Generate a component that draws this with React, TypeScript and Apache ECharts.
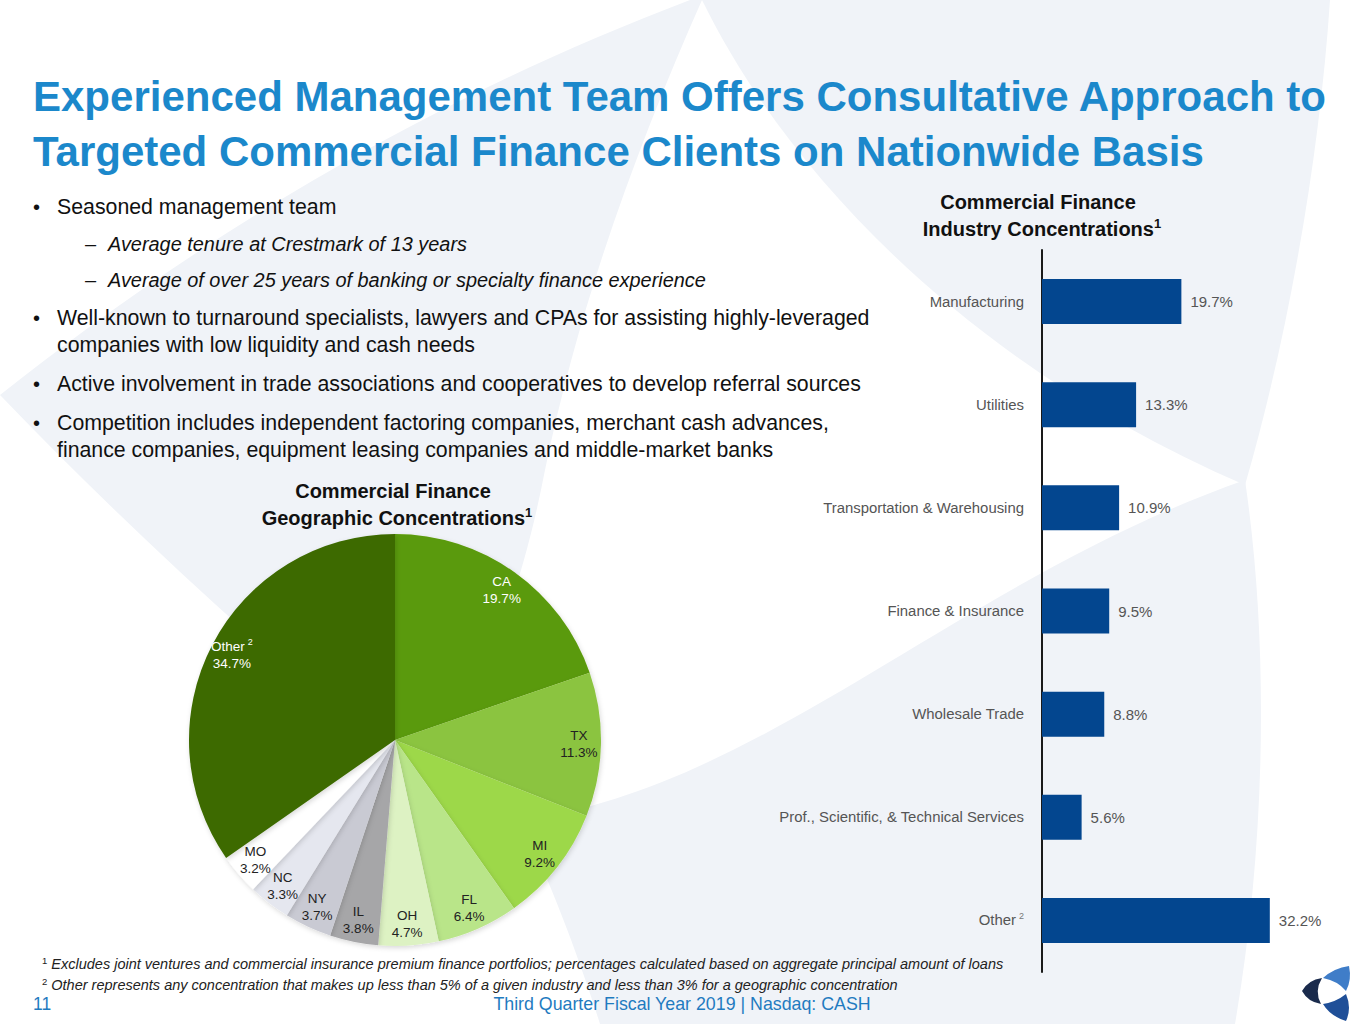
import React, { useEffect, useRef } from "react";
import * as echarts from "echarts";

const titleLines = [
  "Experienced Management Team Offers Consultative Approach to",
  "Targeted Commercial Finance Clients on Nationwide Basis",
];

const bulletLines = [
  { level: 1, marker: "•", text: "Seasoned management team" },
  { level: 2, marker: "–", text: "Average tenure at Crestmark of 13 years" },
  { level: 2, marker: "–", text: "Average of over 25 years of banking or specialty finance experience" },
  { level: 1, marker: "•", text: "Well-known to turnaround specialists, lawyers and CPAs for assisting highly-leveraged" },
  { level: 1, marker: "", text: "companies with low liquidity and cash needs" },
  { level: 1, marker: "•", text: "Active involvement in trade associations and cooperatives to develop referral sources" },
  { level: 1, marker: "•", text: "Competition includes independent factoring companies, merchant cash advances," },
  { level: 1, marker: "", text: "finance companies, equipment leasing companies and middle-market banks" },
];
const bulletY = [207, 244, 280, 318, 345, 384, 423, 450];

const geoNames = ["CA", "TX", "MI", "FL", "OH", "IL", "NY", "NC", "MO", "Other"];
const geoValues = [19.7, 11.3, 9.2, 6.4, 4.7, 3.8, 3.7, 3.3, 3.2, 34.7];
const geoColors = ["#5a9a08", "#8bc43f", "#9dd849", "#b9e589", "#ddf2c3", "#a6a6a8", "#c9cad3", "#e5e7ef", "#ffffff", "#3d6a05"];
const geoLabelColors = ["#ffffff", "#222222", "#222222", "#222222", "#222222", "#222222", "#222222", "#222222", "#222222", "#ffffff"];

const industryNames = [
  "Manufacturing",
  "Utilities",
  "Transportation & Warehousing",
  "Finance & Insurance",
  "Wholesale Trade",
  "Prof., Scientific, & Technical Services",
  "Other",
];
const industryValues = [19.7, 13.3, 10.9, 9.5, 8.8, 5.6, 32.2];

const footnotes = [
  "Excludes joint ventures and commercial insurance premium finance portfolios; percentages calculated based on aggregate principal amount of loans",
  "Other represents any concentration that makes up less than 5% of a given industry and less than 3% for a geographic concentration",
];
const pageNumber = "11";
const footerText = "Third Quarter Fiscal Year 2019 | Nasdaq: CASH";

const FONT = "'Liberation Sans', Arial, sans-serif";
const NARROW = "'Liberation Sans Narrow', 'Arial Narrow', 'Liberation Sans', sans-serif";
const TITLE_BLUE = "#1b88cb";
const FOOT_BLUE = "#1f7bc0";

echarts.graphic.registerShape(
  "bgLeft",
  echarts.graphic.extendPath(
    "M 0 395 C 170 260 400 110 690 0 L 702 0 C 640 140 580 300 545 470 C 520 600 480 700 420 780 C 260 650 120 520 0 395 Z",
    {}
  )
);
echarts.graphic.registerShape(
  "bgTop",
  echarts.graphic.extendPath(
    "M 702 0 C 800 200 1000 380 1245 485 C 1290 330 1320 150 1330 0 Z",
    {}
  )
);
echarts.graphic.registerShape(
  "bgBottom",
  echarts.graphic.extendPath(
    "M 520 820 C 760 790 960 580 1245 480 C 1270 650 1265 850 1235 1024 L 600 1024 C 580 960 550 880 520 820 Z",
    {}
  )
);
echarts.graphic.registerShape(
  "logoLeft",
  echarts.graphic.extendPath("M 1302 991 Q 1308 980 1322 978 Q 1314 991 1321 1004 Q 1308 1002 1302 991 Z", {})
);
echarts.graphic.registerShape(
  "logoTop",
  echarts.graphic.extendPath("M 1323 978 Q 1334 968 1349 966 Q 1352 980 1346 991 Q 1338 981 1323 978 Z", {})
);
echarts.graphic.registerShape(
  "logoBottom",
  echarts.graphic.extendPath("M 1323 1004 Q 1336 1002 1346 994 Q 1352 1008 1346 1021 Q 1330 1016 1323 1004 Z", {})
);

function buildOption() {
  const graphics: any[] = [];
  const bgFill = "#f0f3f8";
  graphics.push({ type: "bgLeft", z: -10, style: { fill: bgFill } });
  graphics.push({ type: "bgTop", z: -10, style: { fill: bgFill } });
  graphics.push({ type: "bgBottom", z: -10, style: { fill: bgFill } });

  titleLines.forEach((t, i) => {
    graphics.push({
      type: "text",
      z: 10,
      style: {
        text: t,
        x: 33,
        y: 96 + i * 55,
        fill: TITLE_BLUE,
        fontSize: 42,
        fontWeight: "bold",
        fontFamily: NARROW,
        textVerticalAlign: "middle",
      },
    });
  });

  bulletLines.forEach((b, i) => {
    const y = bulletY[i];
    const markerX = b.level === 1 ? 33 : 85;
    const textX = b.level === 1 ? 57 : 108;
    if (b.marker) {
      graphics.push({
        type: "text",
        z: 10,
        style: {
          text: b.marker,
          x: markerX,
          y,
          fill: "#111",
          fontSize: 20,
          fontFamily: FONT,
          textVerticalAlign: "middle",
        },
      });
    }
    graphics.push({
      type: "text",
      z: 10,
      style: {
        text: b.text,
        x: textX,
        y,
        fill: "#111",
        fontSize: b.level === 2 ? 19.9 : 21.3,
        fontStyle: b.level === 2 ? "italic" : "normal",
        fontFamily: FONT,
        textVerticalAlign: "middle",
      },
    });
  });

  const chartTitle = (x: number, y: number, l1: string, l2: string) => {
    graphics.push({
      type: "text",
      z: 10,
      style: {
        text: l1,
        x,
        y,
        fill: "#111",
        fontSize: 20,
        fontWeight: "bold",
        fontFamily: FONT,
        textAlign: "center",
        textVerticalAlign: "middle",
      },
    });
    graphics.push({
      type: "text",
      z: 10,
      style: {
        text: `{a|${l2}}{s|1}`,
        x: x + 4,
        y: y + 27,
        fill: "#111",
        textAlign: "center",
        textVerticalAlign: "middle",
        rich: {
          a: { fontSize: 20, fontWeight: "bold", fontFamily: FONT, fill: "#111", lineHeight: 24 },
          s: { fontSize: 13, fontWeight: "bold", fontFamily: FONT, fill: "#111", verticalAlign: "top", lineHeight: 24 },
        },
      },
    });
  };
  chartTitle(1038, 202, "Commercial Finance", "Industry Concentrations");
  chartTitle(393, 491, "Commercial Finance", "Geographic Concentrations");

  footnotes.forEach((t, i) => {
    graphics.push({
      type: "text",
      z: 10,
      style: {
        text: `{s|${i + 1}}{a| ${t}}`,
        x: 42,
        y: 964 + i * 21,
        textVerticalAlign: "middle",
        rich: {
          s: { fontSize: 9.5, fontFamily: FONT, fill: "#222", verticalAlign: "top", lineHeight: 17 },
          a: { fontSize: 14.5, fontStyle: "italic", fontFamily: FONT, fill: "#222", lineHeight: 17 },
        },
      },
    });
  });

  graphics.push({
    type: "text",
    z: 10,
    style: { text: pageNumber, x: 33, y: 1004, fill: FOOT_BLUE, fontSize: 17.5, fontFamily: FONT, textVerticalAlign: "middle" },
  });
  graphics.push({
    type: "text",
    z: 10,
    style: {
      text: footerText,
      x: 682,
      y: 1004,
      fill: FOOT_BLUE,
      fontSize: 17.8,
      fontFamily: FONT,
      textAlign: "center",
      textVerticalAlign: "middle",
    },
  });

  graphics.push({ type: "logoLeft", z: 10, style: { fill: "#1a2b4c" } });
  graphics.push({ type: "logoTop", z: 10, style: { fill: "#3f7dc8" } });
  graphics.push({ type: "logoBottom", z: 10, style: { fill: "#1f4f98" } });

  const pieData = geoNames.map((n, i) => ({
    name: n,
    value: geoValues[i],
    itemStyle: { color: geoColors[i] },
  }));
  const labelData = geoNames.map((n, i) => ({
    name: n,
    value: geoValues[i],
    label: { color: geoLabelColors[i] },
  }));

  return {
    animation: false,
    backgroundColor: "#ffffff",
    graphic: { elements: graphics },
    grid: { left: 1042, top: 250, width: 283, height: 722, containLabel: false },
    xAxis: {
      type: "value",
      min: 0,
      max: 40,
      show: false,
      splitLine: { show: false },
    },
    yAxis: {
      type: "category",
      data: industryNames,
      inverse: true,
      axisLine: { show: true, lineStyle: { color: "#1a1a1a", width: 2 } },
      axisTick: { show: false },
      splitLine: { show: false },
      axisLabel: {
        margin: 18,
        color: "#555",
        fontSize: 14.9,
        fontFamily: FONT,
        formatter: (v: string) => (v === "Other" ? `{a|Other}{s|2}` : v),
        rich: {
          a: { fontSize: 14.9, fontFamily: FONT, color: "#555", lineHeight: 18 },
          s: { fontSize: 9, fontFamily: FONT, color: "#777", verticalAlign: "top", lineHeight: 18, padding: [0, 0, 0, 3] },
        },
      },
    },
    series: [
      {
        type: "bar",
        data: industryValues,
        barWidth: 45,
        itemStyle: { color: "#03468f" },
        label: {
          show: true,
          position: "right",
          distance: 9,
          color: "#555",
          fontSize: 15,
          fontFamily: FONT,
          formatter: (p: any) => `${p.value.toFixed(1)}%`,
        },
        z: 3,
      },
      {
        type: "pie",
        center: [395, 740],
        radius: [0, 206],
        startAngle: 90,
        clockwise: true,
        avoidLabelOverlap: false,
        label: { show: false },
        labelLine: { show: false },
        itemStyle: { shadowBlur: 5, shadowColor: "rgba(0,0,0,0.15)", shadowOffsetX: 1, shadowOffsetY: 2 },
        emphasis: { disabled: true },
        data: pieData,
        z: 2,
      },
      {
        type: "pie",
        center: [395, 740],
        radius: [150, 212],
        startAngle: 90,
        clockwise: true,
        silent: true,
        avoidLabelOverlap: false,
        minShowLabelAngle: 0,
        labelLayout: { hideOverlap: false },
        itemStyle: { color: "rgba(0,0,0,0)" },
        labelLine: { show: false },
        emphasis: { disabled: true },
        label: {
          show: true,
          position: "inside",
          fontFamily: FONT,
          fontSize: 13.5,
          lineHeight: 16,
          formatter: (p: any) =>
            p.name === "Other"
              ? `{n|${p.name}}{s|2}\n{v|${p.value.toFixed(1)}%}`
              : `{n|${p.name}}\n{v|${p.value.toFixed(1)}%}`,
          rich: {
            n: { fontSize: 13.5, fontFamily: FONT, lineHeight: 17 },
            v: { fontSize: 13.5, fontFamily: FONT, lineHeight: 17 },
            s: { fontSize: 9, fontFamily: FONT, verticalAlign: "top", lineHeight: 17, padding: [0, 0, 0, 3] },
          },
        },
        data: labelData,
        z: 4,
      },
    ],
  };
}

export default function App() {
  const ref = useRef<HTMLDivElement>(null);
  useEffect(() => {
    if (!ref.current) return;
    const chart = echarts.init(ref.current, undefined, { renderer: "svg" });
    chart.setOption(buildOption() as any);
    return () => chart.dispose();
  }, []);
  return (
    <div
      ref={ref}
      style={{ position: "fixed", left: 0, top: 0, width: 1365, height: 1024, background: "#fff" }}
    />
  );
}
